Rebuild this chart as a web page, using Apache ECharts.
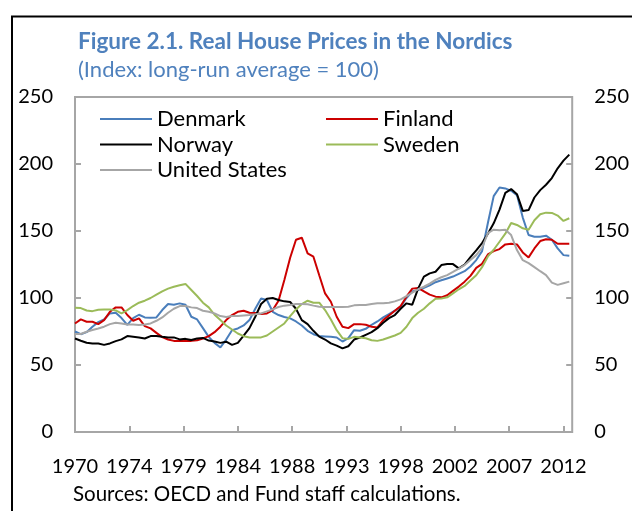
<!DOCTYPE html>
<html>
<head>
<meta charset="utf-8">
<script src="https://cdn.jsdelivr.net/npm/echarts@6/dist/echarts.min.js"></script>
<style>
html,body{margin:0;padding:0;background:#fff;}
#chart{width:632px;height:511px;}
</style>
</head>
<body>
<div id="chart"></div>
<script>
// Semiannual observations, 1970H1 .. 2012H2 (index i -> i*6 months after Jan 1970)
const startYear = 1970;
const stepMonths = 6;
const xTickLabels = ['1970','1974','1979','1984','1988','1993','1998','2002','2007','2012'];
const yTickValues = [0, 50, 100, 150, 200, 250];

const denmark = [75,73,74.5,78.5,82,84,88.5,89,85,80,
  85,87.5,85.5,85.3,85.5,91,95.5,95,96,95,
  86,84,77.5,71,66.5,63.1,69,76,77.3,79.5,
  83.5,92,99.7,98.5,89.7,87.3,85.8,84.8,82.5,79.5,
  75.5,73,71.6,71.3,71,70.5,67.5,70,76,75.6,
  77,80,82.5,85.5,88,90.5,93.5,100,104.8,106,
  107.5,109.4,111.8,113.2,114.6,116,118,120,123.5,128.3,
  135,156,176,182.5,181.8,180,176.8,160,147,145.7,
  145.7,146.5,143.5,137,132,131.5];

const finland = [81,84,82.3,82.3,80.5,83.5,89.7,93,93,87.3,
  83,84.8,79,77.3,74,70.8,69,68,68,68,
  68,68.5,69.8,71.5,74.5,78.6,83.5,87.3,89.7,90.5,
  89,88.8,88,88.5,91,98,113.4,130,143.5,145,
  133.3,130.8,117,103.4,97.2,86,78.5,77.5,80.5,80.5,
  80,78.5,78,83.5,87,90.5,94,101,107,107.5,
  105,102.5,101,100.5,102,105.3,108.5,112.2,116.5,122.5,
  125.5,132.5,135,136.5,140,140.5,140,134,130.3,137,
  142.5,143.8,143.5,140.5,140.5,140.5];

const norway = [69.8,68.1,66.6,66.1,66.1,65,66.1,67.8,69.1,71.6,
  71.1,70.6,69.8,71.6,71.6,71,70.5,70.6,69.1,69.5,
  68.6,69.8,70.2,68.2,67.5,66.5,67.4,65,66.5,72,
  77.5,86,95.5,99.5,100,98.5,97.5,97,92,83.5,
  80.5,75.5,71.2,69,66.1,64.5,62.4,64,69,70.5,
  72.5,74.5,77.5,81.5,85,87.3,92,96,95,107,
  116,118.4,119.6,124.6,125.3,125.3,122.1,125,130.5,135.5,
  141,148,155.7,166,178.5,181.3,177.5,165,165.6,175,
  180.5,184.5,189.5,196.8,202.5,207];

const sweden = [92.7,92.5,90.7,90.2,91.2,91.5,91.5,90.7,88.5,91,
  94,96.5,98,100,102.5,105,107,108.4,109.5,110.5,
  106,101.5,96.5,93,87.5,83.5,79.5,76.5,73.5,71.5,
  70.6,70.6,70.6,72,75,78,81,86.5,91.5,95.5,
  98,96.5,96.5,91,84,76,70,69.5,71,70.5,
  70,68.5,68,69,70.5,72,74,78.5,85,89,
  92,96,99.5,99.7,100.5,103.5,106.5,109,113,117,
  123,131,136,142,148,156,154.5,152,151,158,
  162.5,163.7,163.5,161.5,157.5,159.5];

const unitedStates = [73.1,73.1,74.8,76.1,77.3,78.6,80.5,81.5,81,80.3,
  80.3,79.8,80.3,81,83,85.5,89,92,94,94,
  93,92.5,90.5,89.8,88.5,86.5,85.8,86.5,86.5,87,
  87.3,87.8,88.5,90,91.5,93.3,94.3,94.8,95.5,95.5,
  95.3,94.3,93.5,93.3,93.3,93.3,93.3,93.5,94.5,94.7,
  94.7,95.5,96,96,96.5,97.5,99,101.4,104,106.5,
  108.4,110.7,113.5,115.5,117.1,119.5,122,124.6,128.3,132,
  137.5,148.5,151,150.5,151,147,135.8,128.2,126,123,
  120,117.1,111.5,109.8,111,112.2];

const seriesNames = ['Denmark','Finland','Norway','Sweden','United States'];
const seriesColors = ['#4A7EBB','#CC0000','#000000','#9BBB59','#A6A6A6'];
const seriesValues = [denmark, finland, norway, sweden, unitedStates];

const xMaxMonths = 513;
const tickEveryMonths = 56;

function toPairs(arr){ return arr.map((v,i)=>[i*stepMonths, v]); }

const chart = echarts.init(document.getElementById('chart'), null, {renderer:'canvas'});
const FONT = 'Lato';

const yAxisCommon = {
  type:'value', min:0, max:250, interval:50,
  splitLine:{show:false},
  axisLine:{show:false},
  axisTick:{show:true, inside:true, length:6, lineStyle:{color:'#A6A6A6', width:2}},
  axisLabel:{color:'#000', fontSize:20, fontFamily:FONT, margin:22}
};

chart.setOption({
  animation:false,
  textStyle:{fontFamily:FONT},
  title:{
    text:'Figure 2.1. Real House Prices in the Nordics',
    subtext:'(Index: long-run average = 100)',
    left:78, top:30, itemGap:6,
    textStyle:{fontFamily:FONT, fontSize:22.5, fontWeight:'bold', color:'#4F81BD'},
    subtextStyle:{fontFamily:FONT, fontSize:22, color:'#4F81BD'},
    padding:0
  },
  legend:[
    {data:['Denmark','Norway','United States'], orient:'vertical', left:100, top:108,
     icon:'rect', itemWidth:52, itemHeight:2, itemGap:3.5, padding:0,
     textStyle:{fontFamily:FONT, fontSize:22, color:'#000', lineHeight:22}},
    {data:['Finland','Sweden'], orient:'vertical', left:326, top:108,
     icon:'rect', itemWidth:52, itemHeight:2, itemGap:3.5, padding:0,
     textStyle:{fontFamily:FONT, fontSize:22, color:'#000', lineHeight:22}}
  ],
  grid:{left:75, right:54, top:97, bottom:79, show:true, borderColor:'#A6A6A6', borderWidth:2, backgroundColor:'transparent'},
  xAxis:{
    type:'value', min:0, max:xMaxMonths, interval:tickEveryMonths,
    splitLine:{show:false},
    axisLine:{show:false},
    axisTick:{show:true, inside:true, length:6, lineStyle:{color:'#A6A6A6', width:2}},
    axisLabel:{color:'#000', fontSize:20, fontFamily:FONT, margin:25, showMaxLabel:false,
      formatter:function(v){ const k = Math.round(v/tickEveryMonths); return (Math.abs(v - k*tickEveryMonths) < 1e-6 && xTickLabels[k]) ? xTickLabels[k] : ''; }}
  },
  yAxis:[
    Object.assign({position:'left'}, yAxisCommon),
    Object.assign({position:'right'}, yAxisCommon)
  ],
  series: seriesNames.map((n,i)=>({
    name:n, type:'line', data:toPairs(seriesValues[i]), showSymbol:false, symbol:'none',
    lineStyle:{color:seriesColors[i], width:2}, itemStyle:{color:seriesColors[i]},
    emphasis:{disabled:true}
  })),
  graphic:[
    {type:'rect', shape:{x:12, y:16.5, width:800, height:700}, style:{fill:'none', stroke:'#000', lineWidth:2}, silent:true},
    {type:'text', left:73, top:483.5, style:{text:'Sources: OECD and Fund staff calculations.', fontFamily:FONT, fontSize:20.5, fill:'#000'}}
  ]
});
</script>
</body>
</html>
